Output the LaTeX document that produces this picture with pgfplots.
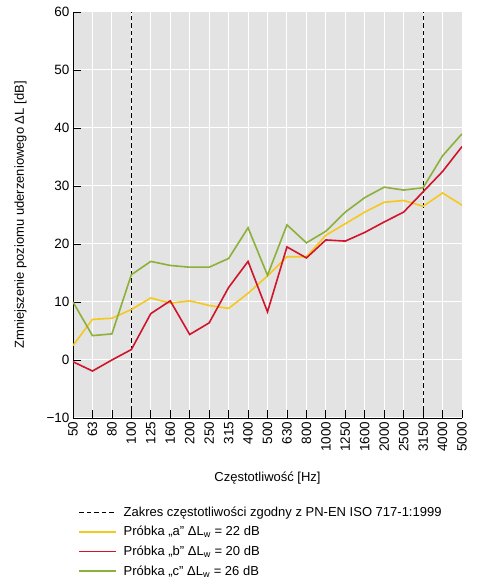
\documentclass[border=0pt]{standalone}
\usepackage{pgfplots}
\pgfplotsset{compat=1.18}
\usepackage{fontspec}
\setmainfont{Liberation Sans}
\definecolor{bg}{RGB}{227,227,227}
\definecolor{cy}{RGB}{245,200,30}
\definecolor{cr}{RGB}{208,20,44}
\definecolor{cg}{RGB}{140,176,58}
\begin{document}
\begin{tikzpicture}
\begin{axis}[
 scale only axis, width=389pt, height=406pt,
 xmin=0, xmax=20, ymin=-10, ymax=60,
 axis x line=bottom, axis y line=left,
 axis line style={-, black, line width=0.8pt},
 xtick={0,...,20},
 xticklabels={50,63,80,100,125,160,200,250,315,400,500,630,800,1000,1250,1600,2000,2500,3150,4000,5000},
 ytick={-10,0,10,20,30,40,50,60},
 yticklabels={−10,0,10,20,30,40,50,60},
 x tick label style={rotate=90, anchor=east},
 tick align=inside, major tick length=8pt,
 tick style={black, line width=0.8pt},
 grid=major, major grid style={white, line width=1pt},
 axis background/.style={fill=bg},
 ticklabel style={font=\fontsize{13.5}{15}\selectfont},
 xlabel={Częstotliwość [Hz]},
 ylabel={Zmniejszenie poziomu uderzeniowego ΔL [dB]},
 label style={font=\fontsize{13}{15}\selectfont},
 xlabel style={at={(axis description cs:0.5,-0.148)}, anchor=center},
 ylabel style={at={(axis description cs:-0.135,0.5)}, anchor=center},
 legend style={at={(axis description cs:0.006,-0.208)}, anchor=north west,
   draw=none, fill=none, font=\fontsize{13}{15}\selectfont, row sep=4.6pt,
   cells={anchor=west},
   /tikz/every odd column/.append style={column sep=4.5pt}},
 legend image code/.code={\draw[#1] (0pt,0pt) -- (37pt,0pt);},
]
\addplot[black, dash pattern=on 4.5pt off 3pt, line width=0.9pt] coordinates {(3,-10)(3,60)};
\addlegendentry{Zakres częstotliwości zgodny z PN-EN ISO 717-1:1999}
\addplot[black, dash pattern=on 4.5pt off 3pt, line width=0.9pt, forget plot] coordinates {(18,-10)(18,60)};
\addplot[cy, line width=1.6pt] coordinates {
(0,2.5)(1,7)(2,7.2)(3,8.7)(4,10.7)(5,9.8)(6,10.2)(7,9.4)(8,8.9)(9,11.5)(10,14.5)(11,17.8)(12,17.8)(13,21.5)(14,23.5)(15,25.5)(16,27.2)(17,27.5)(18,26.5)(19,28.8)(20,26.7)};
\addlegendentry{Próbka „a” ΔL\textsubscript{w} = 22 dB}
\addplot[cr, line width=1.6pt] coordinates {
(0,-0.3)(1,-1.9)(2,0)(3,1.8)(4,8)(5,10.2)(6,4.4)(7,6.4)(8,12.5)(9,17)(10,8.3)(11,19.5)(12,17.6)(13,20.7)(14,20.5)(15,22)(16,23.8)(17,25.5)(18,29)(19,32.5)(20,36.8)};
\addlegendentry{Próbka „b” ΔL\textsubscript{w} = 20 dB}
\addplot[cg, line width=1.6pt] coordinates {
(0,10)(1,4.2)(2,4.5)(3,14.7)(4,17)(5,16.3)(6,16)(7,16)(8,17.5)(9,22.8)(10,14.6)(11,23.3)(12,20.2)(13,22.2)(14,25.5)(15,28)(16,29.8)(17,29.3)(18,29.7)(19,35.2)(20,39)};
\addlegendentry{Próbka „c” ΔL\textsubscript{w} = 26 dB}
\end{axis}
\path ([shift={(-73pt,-166pt)}]current axis.south west) rectangle ([shift={(30pt,12pt)}]current axis.north east);
\end{tikzpicture}
\end{document}
